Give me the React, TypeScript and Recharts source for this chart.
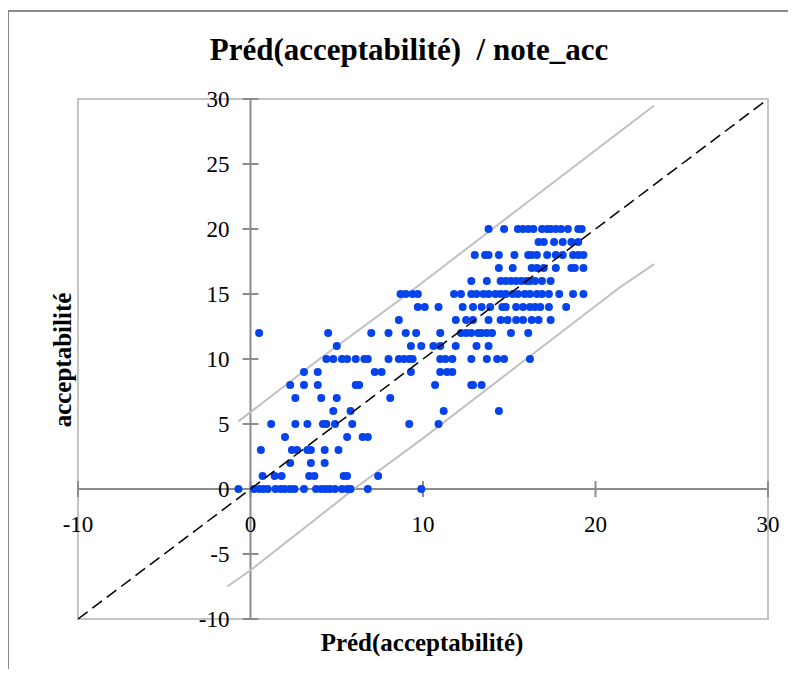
import React from 'react'
import {
  ScatterChart,
  Scatter,
  XAxis,
  YAxis,
  ReferenceLine,
  ReferenceArea,
  ReferenceDot,
} from 'recharts'

// predicted acceptability (x) for each observed note (y)
const note0 = [-0.7, 0.2, 0.5, 0.75, 1.0, 1.45, 1.75, 2.0, 2.3, 2.55, 3.1, 3.8, 4.1, 4.35, 4.6, 4.9, 5.3, 5.6, 5.8, 6.8, 9.9]
const note1 = [0.7, 1.4, 1.8, 3.4, 3.7, 5.4, 5.6, 7.4]
const note2 = [2.3, 3.5, 4.3]
const note3 = [0.6, 2.4, 2.7, 3.3, 3.5, 4.3, 5.1]
const note4 = [2.0, 5.6, 6.5, 6.8]
const note5 = [1.2, 2.6, 3.3, 4.2, 4.4, 4.9, 5.9, 9.2, 10.9]
const note6 = [4.8, 5.8, 11.2, 14.4]
const note7 = [2.6, 4.1, 5.0, 8.1]
const note8 = [2.3, 3.1, 3.9, 6.1, 6.3, 10.7, 12.8, 12.9, 13.4]
const note9 = [3.1, 3.9, 7.2, 7.6, 9.3, 11.0, 11.4, 11.7]
const note10 = [4.4, 4.8, 5.3, 5.6, 6.1, 6.6, 6.8, 8.0, 8.6, 8.9, 9.2, 9.4, 11.0, 11.3, 11.7, 12.8, 13.7, 14.3, 14.7, 16.2]
const note11 = [5.0, 9.3, 9.9, 10.6, 11.0, 11.9, 13.1, 13.8]
const note12 = [0.5, 4.5, 7.0, 8.0, 9.0, 9.6, 11.0, 12.2, 12.5, 12.8, 13.2, 13.4, 13.7, 14.0, 15.1, 16.1]
const note13 = [8.6, 11.9, 12.5, 12.9, 13.8, 14.5, 14.9, 15.4, 15.8, 16.3, 16.7, 17.4]
const note14 = [9.7, 10.1, 10.9, 12.3, 12.9, 13.4, 13.9, 14.6, 14.8, 15.4, 15.8, 16.2, 16.5, 16.8, 17.3, 18.3]
const note15 = [8.7, 9.0, 9.4, 9.7, 11.8, 12.2, 12.8, 13.1, 13.5, 13.8, 14.2, 14.5, 14.8, 15.2, 15.5, 15.9, 16.2, 16.6, 16.9, 17.3, 17.9, 18.7, 19.3]
const note16 = [12.8, 13.7, 14.5, 14.8, 15.1, 15.4, 15.7, 16.0, 16.2, 16.5, 16.9, 17.4]
const note17 = [14.4, 15.2, 16.3, 16.6, 17.0, 17.7, 18.6, 18.8, 19.3]
const note18 = [13.0, 13.6, 13.8, 14.4, 15.3, 16.1, 16.3, 16.6, 17.2, 17.7, 18.1, 18.7, 19.0, 19.3]
const note19 = [16.7, 17.0, 17.6, 18.1, 18.6, 19.0]
const note20 = [13.8, 14.7, 15.5, 15.8, 16.1, 16.4, 16.9, 17.2, 17.4, 17.7, 18.0, 18.4, 19.0, 19.2]

const rows = [note0, note1, note2, note3, note4, note5, note6, note7, note8, note9, note10,
  note11, note12, note13, note14, note15, note16, note17, note18, note19, note20]

// prediction band (grey lines)
const upperX = [-0.7, 4.0, 8.7, 15.5, 23.4]
const upperY = [5.2, 10.0, 14.6, 21.5, 29.5]
const lowerX = [-1.35, 0, 6.0, 9.9, 21.4, 23.4]
const lowerY = [-7.5, -6.25, 0, 3.8, 15.5, 17.3]

const diagX = [-10, 30]
const diagY = [-10, 30]

const xTicks = [-10, 0, 10, 20, 30]
const yTicks = [-10, -5, 0, 5, 10, 15, 20, 25, 30]

const points = rows.flatMap((xs, note) => xs.map((x) => ({ x, y: note })))
const upper = upperX.map((x, i) => ({ x, y: upperY[i] }))
const lower = lowerX.map((x, i) => ({ x, y: lowerY[i] }))
const diag = diagX.map((x, i) => ({ x, y: diagY[i] }))

const serif = '"Liberation Serif", "DejaVu Serif", serif'
const axisGrey = '#8c8c8c'
const noShape = () => <g />

export default function App() {
  return (
    <div style={{ position: 'relative', width: 780, height: 661 }}>
      <ScatterChart width={780} height={661} margin={{ top: 91, right: 20, bottom: 50, left: 70 }}>
        <XAxis type="number" dataKey="x" domain={[-10, 30]} hide />
        <YAxis type="number" dataKey="y" domain={[-10, 30]} hide />
        <ReferenceArea x1={-10} x2={30} y1={-10} y2={30} fill="none" stroke="#c4c4c4" strokeWidth={2} />
        <ReferenceLine y={0} stroke={axisGrey} strokeWidth={2} />
        <ReferenceLine x={0} stroke={axisGrey} strokeWidth={2} />
        {xTicks.map((t) => (
          <ReferenceLine key={'xt' + t} segment={[{ x: t, y: -0.62 }, { x: t, y: 0.62 }]} stroke={axisGrey} strokeWidth={2} />
        ))}
        {yTicks.map((t) => (
          <ReferenceLine key={'yt' + t} segment={[{ x: -0.46, y: t }, { x: 0.46, y: t }]} stroke={axisGrey} strokeWidth={2} />
        ))}
        <Scatter data={upper} line={{ stroke: '#c0c0c0', strokeWidth: 2 }} lineType="joint" shape={noShape} isAnimationActive={false} />
        <Scatter data={lower} line={{ stroke: '#c0c0c0', strokeWidth: 2 }} lineType="joint" shape={noShape} isAnimationActive={false} />
        <Scatter
          data={points}
          isAnimationActive={false}
          shape={(p: any) => <circle cx={p.cx} cy={p.cy} r={4} fill="#0543ec" />}
        />
        <Scatter
          data={diag}
          line={{ stroke: '#000', strokeWidth: 1.5, strokeDasharray: '12 6' }}
          lineType="joint"
          shape={noShape}
          isAnimationActive={false}
        />
        {xTicks.map((t) => (
          <ReferenceDot
            key={'xl' + t}
            x={t}
            y={0}
            r={0}
            stroke="none"
            ifOverflow="visible"
            label={{ value: String(t), position: 'bottom', offset: 27, fontSize: 23, fill: '#000', fontFamily: serif }}
          />
        ))}
        {yTicks.map((t) => (
          <ReferenceDot
            key={'yl' + t}
            x={0}
            y={t}
            r={0}
            stroke="none"
            ifOverflow="visible"
            label={{ value: String(t), position: 'left', offset: 21, fontSize: 23, fill: '#000', fontFamily: serif }}
          />
        ))}
      </ScatterChart>
      <svg
        width={796}
        height={677}
        style={{ position: 'absolute', left: -8, top: -8, pointerEvents: 'none' }}
      >
        <line x1={7} y1={11} x2={796} y2={11} stroke="#8a8a8a" strokeWidth={2} />
        <line x1={8} y1={11} x2={8} y2={677} stroke="#8a8a8a" strokeWidth={2} />
        <text x={409} y={60} textAnchor="middle" fontFamily={serif} fontSize={31} fontWeight="bold" style={{ whiteSpace: 'pre' }}>
          Préd(acceptabilité)  / note_acc
        </text>
        <text x={422} y={651} textAnchor="middle" fontFamily={serif} fontSize={25} fontWeight="bold">
          Préd(acceptabilité)
        </text>
        <text
          x={62}
          y={360}
          textAnchor="middle"
          dominantBaseline="central"
          fontFamily={serif}
          fontSize={25}
          fontWeight="bold"
          transform="rotate(-90 62 360)"
        >
          acceptabilité
        </text>
      </svg>
    </div>
  )
}
